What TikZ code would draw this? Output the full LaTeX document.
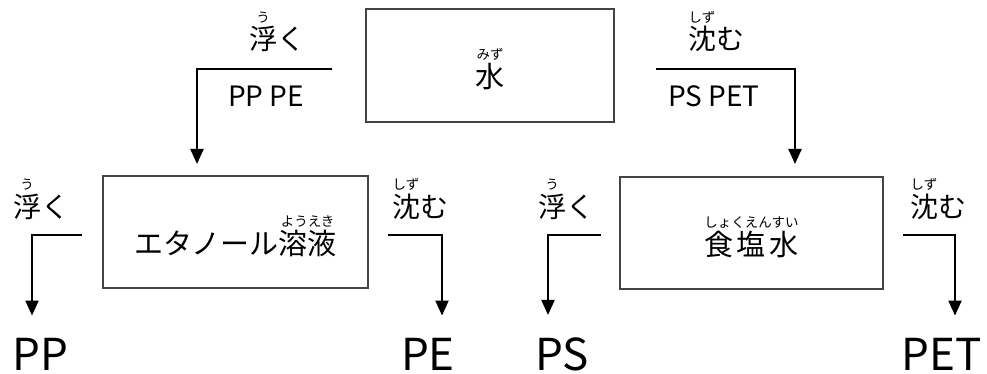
\documentclass[tikz,border=0pt]{standalone}
\usepackage{fontspec}
\setmainfont{Noto Sans CJK JP}
\usetikzlibrary{arrows.meta,positioning}
\definecolor{boxgray}{HTML}{444444}
% ruby over a word: reading on top, base below
\newcommand{\rubysize}{\fontsize{13.5}{13.5}\selectfont}
\newcommand{\furi}[2]{\leavevmode\vbox{\offinterlineskip\halign{\hfil##\hfil\cr{\rubysize #2}\cr\noalign{\kern3pt}#1\cr}}}
% box text sits a little below the middle
\newcommand{\boxtext}[1]{\raisebox{0pt}[\dimexpr\height+8pt\relax][\depth]{#1}}
\tikzset{
	boxnode/.style = {draw=boxgray, line width=2pt, inner sep=0pt,
		font=\fontsize{29}{29}\selectfont},
	flow/.style = {-{Triangle[width=13pt,length=15pt]}, line width=2.2pt},
	label/.style = {anchor=base, inner sep=0pt, font=\fontsize{28}{28}\selectfont},
	result/.style = {anchor=base, inner sep=0pt, font=\fontsize{44}{44}\selectfont}
}
\begin{document}
\begin{tikzpicture}[x=1pt, y=-1pt]
    \useasboundingbox (0,0) rectangle (987,374);
    % Boxes
    \node (water) [boxnode, minimum width=248pt, minimum height=113pt] at (490,65.5) {\boxtext{\furi{水}{みず}}};
    \node (ethanol) [boxnode, minimum width=265pt, minimum height=112pt] at (235.5,232) {\boxtext{エタノール\furi{溶液}{ようえき}}};
    \node (saltwater) [boxnode, minimum width=263pt, minimum height=112pt] at (751.5,233) {\boxtext{\furi{食\hspace{4pt}塩\hspace{4pt}水}{しょくえんすい}}};

    % Labels
    \node (water-float) [label] at (277,50) {\furi{浮}{う}く};
    \node (water-float-list) [label] at (266,107) {PP PE};
    \node (water-sink) [label] at (716,50) {\furi{沈}{しず}む};
    \node (water-sink-list) [label] at (714,107) {PS PET};
    \node (ethanol-float) [label] at (41,217) {\furi{浮}{う}く};
    \node (ethanol-sink) [label] at (420,217) {\furi{沈}{しず}む};
    \node (salt-float) [label] at (566,217) {\furi{浮}{う}く};
    \node (salt-sink) [label] at (938,217) {\furi{沈}{しず}む};

    % Results
    \node (pp) [result] at (40,370) {PP};
    \node (pe) [result] at (428,370) {PE};
    \node (ps) [result] at (562,370) {PS};
    \node (pet) [result] at (942,370) {PET};

    % Arrows
    \draw [flow] ([xshift=-33pt,yshift=-3.5pt]water.west) -| ([xshift=-38.5pt,yshift=11pt]ethanol.north);
    \draw [flow] ([xshift=41pt,yshift=-3.5pt]water.east) -| ([xshift=43.5pt,yshift=12pt]saltwater.north);

    \draw [flow] ([xshift=-20pt,yshift=-3pt]ethanol.west) -| ([xshift=-8pt,yshift=22pt]pp.north);
    \draw [flow] ([xshift=19pt,yshift=-3pt]ethanol.east) -| ([xshift=14pt,yshift=22pt]pe.north);
    \draw [flow] ([xshift=-18pt,yshift=-2pt]saltwater.west) -| ([xshift=-14pt,yshift=22pt]ps.north);
    \draw [flow] ([xshift=19pt,yshift=-2pt]saltwater.east) -| ([xshift=13pt,yshift=22pt]pet.north);

\end{tikzpicture}
\end{document}
